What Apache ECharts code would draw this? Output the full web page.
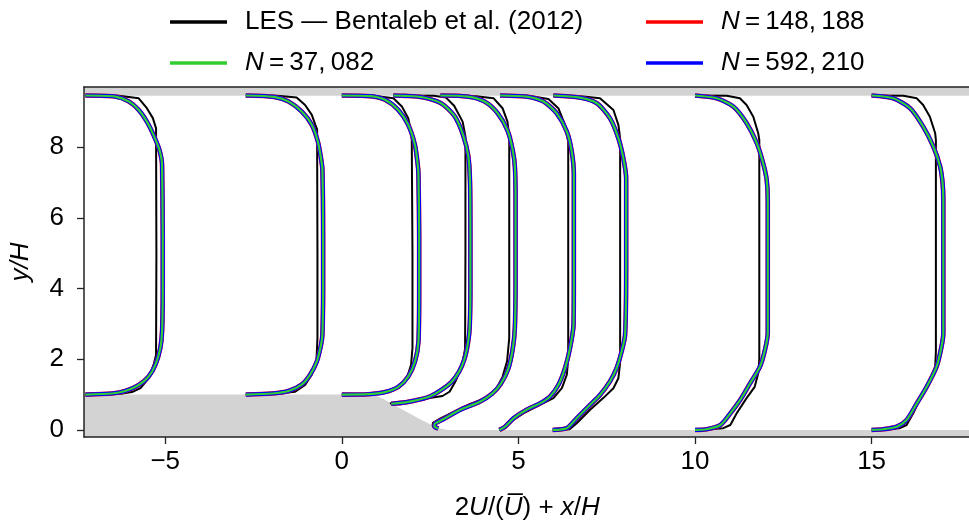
<!DOCTYPE html>
<html><head><meta charset="utf-8">
<script src="https://cdn.jsdelivr.net/npm/echarts@6/dist/echarts.min.js"></script>
<style>html,body{margin:0;padding:0;background:#fff}#c{width:969px;height:527px}</style>
</head><body><div id="c"></div>
<script>
// Coordinates: x = 2U/Ubar + x/H, y = y/H
const xTicks = [-5, 0, 5, 10, 15];
const yTicks = [0, 2, 4, 6, 8];

// Walls (grey solid regions)
const bottomWall = [[-7.3,1.0],[0.6,1.0],[0.8,0.99],[1.0,0.95],[1.2,0.86],[1.4,0.75],[1.6,0.64],[1.8,0.53],[2.0,0.42],[2.2,0.31],[2.4,0.21],[2.6,0.11],[2.8,0.03],[3.0,0.0],[17.8,0.0]];
const topWall = [[-7.3,9.45],[17.8,9.45]];

// LES — Bentaleb et al. (2012) profiles
const les1 = [[-7.26,1.0],[-6.88,1.0],[-6.26,1.02],[-5.94,1.07],[-5.70,1.18],[-5.47,1.46],[-5.33,1.84],[-5.26,2.12],[-5.25,5.0],[-5.26,8.53],[-5.35,8.82],[-5.52,9.10],[-5.75,9.38],[-6.31,9.45],[-7.26,9.46]];
const les2 = [[-2.72,1.0],[-2.22,1.01],[-1.79,1.03],[-1.32,1.08],[-1.04,1.27],[-0.85,1.56],[-0.72,1.93],[-0.69,2.6],[-0.69,5.0],[-0.70,8.5],[-0.75,8.63],[-0.85,8.91],[-1.04,9.19],[-1.28,9.40],[-1.82,9.45],[-2.72,9.46]];
const les3 = [[0.0,1.0],[0.6,1.01],[1.03,1.03],[1.41,1.10],[1.65,1.22],[1.84,1.46],[1.96,1.84],[2.0,2.31],[2.0,5.0],[1.98,8.2],[1.96,8.44],[1.88,8.82],[1.70,9.15],[1.46,9.38],[0.9,9.45],[0.0,9.46]];
const les4 = [[1.36,0.75],[1.75,0.80],[2.35,0.88],[2.85,0.96],[3.05,1.08],[3.22,1.38],[3.40,1.80],[3.49,2.30],[3.50,5.0],[3.50,8.3],[3.42,8.72],[3.18,9.17],[2.95,9.40],[2.60,9.45],[1.46,9.46]];
const les5 = [[2.70,0.04],[2.57,0.12],[2.58,0.20],[2.78,0.32],[3.15,0.50],[3.60,0.72],[4.05,0.90],[4.35,1.12],[4.55,1.50],[4.68,1.95],[4.74,2.6],[4.74,5.0],[4.74,8.3],[4.69,8.72],[4.55,9.1],[4.30,9.38],[3.80,9.44],[2.79,9.46]];
const les6 = [[4.46,0.0],[4.62,0.05],[4.86,0.28],[5.14,0.47],[5.61,0.71],[5.99,0.90],[6.23,1.18],[6.37,1.56],[6.41,2.0],[6.41,5.0],[6.41,8.16],[6.32,8.63],[6.13,9.10],[5.85,9.36],[5.42,9.43],[4.48,9.46]];
const les7 = [[5.97,0.0],[6.45,0.02],[6.65,0.19],[7.03,0.57],[7.40,0.90],[7.69,1.18],[7.83,1.46],[7.88,1.9],[7.88,5.0],[7.88,8.25],[7.83,8.63],[7.69,9.05],[7.31,9.38],[6.84,9.43],[5.99,9.46]];
const les8 = [[10.0,0.0],[10.45,0.02],[10.80,0.05],[11.0,0.14],[11.18,0.47],[11.46,0.90],[11.69,1.22],[11.79,1.60],[11.82,2.0],[11.82,5.0],[11.82,8.2],[11.79,8.39],[11.65,8.86],[11.46,9.19],[11.27,9.38],[10.90,9.45],[10.0,9.46]];
const les9 = [[15.0,0.0],[15.45,0.02],[15.80,0.05],[15.99,0.14],[16.18,0.47],[16.42,0.99],[16.65,1.41],[16.80,1.79],[16.82,2.2],[16.82,5.0],[16.82,8.2],[16.80,8.39],[16.65,8.86],[16.46,9.19],[16.28,9.38],[15.90,9.45],[15.0,9.46]];

// Mesh results (N = 37,082 / 148,188 / 592,210 coincide at this scale)
const mesh1 = [[-7.26,1.0],[-6.51,1.03],[-6.13,1.10],[-5.75,1.27],[-5.47,1.51],[-5.28,1.84],[-5.14,2.31],[-5.09,2.78],[-5.07,4.0],[-5.07,5.5],[-5.09,7.50],[-5.11,7.69],[-5.18,7.97],[-5.33,8.34],[-5.52,8.72],[-5.75,9.05],[-6.03,9.29],[-6.41,9.43],[-7.26,9.46]];
const mesh2 = [[-2.72,1.0],[-1.98,1.03],[-1.51,1.10],[-1.13,1.29],[-0.90,1.56],[-0.71,1.93],[-0.59,2.40],[-0.55,2.7],[-0.53,4.0],[-0.53,5.5],[-0.55,7.36],[-0.59,7.69],[-0.68,8.16],[-0.85,8.63],[-1.13,9.00],[-1.51,9.29],[-1.92,9.42],[-2.72,9.46]];
const mesh3 = [[0.0,1.0],[0.75,1.01],[1.22,1.07],[1.60,1.22],[1.88,1.51],[2.07,1.93],[2.17,2.50],[2.19,4.0],[2.19,5.5],[2.17,7.2],[2.15,7.50],[2.07,8.06],[1.88,8.63],[1.60,9.05],[1.22,9.34],[0.8,9.44],[0.0,9.46]];
const mesh4 = [[1.40,0.74],[1.80,0.78],[2.20,0.86],[2.50,0.95],[2.80,1.12],[3.10,1.35],[3.32,1.65],[3.47,2.00],[3.57,2.45],[3.62,2.90],[3.64,4.0],[3.64,5.5],[3.63,7.0],[3.58,7.75],[3.43,8.35],[3.19,8.88],[2.81,9.24],[2.28,9.41],[1.80,9.45],[1.46,9.46]];
const mesh5 = [[2.73,0.04],[2.62,0.10],[2.64,0.18],[2.87,0.30],[3.35,0.57],[3.91,0.80],[4.25,1.02],[4.50,1.30],[4.71,1.72],[4.84,2.3],[4.90,2.9],[4.92,4.5],[4.92,6.5],[4.90,7.45],[4.84,7.9],[4.70,8.45],[4.41,8.96],[4.04,9.29],[3.56,9.43],[2.79,9.46]];
const mesh6 = [[4.46,0.0],[4.62,0.09],[4.86,0.33],[5.23,0.57],[5.61,0.75],[5.89,0.94],[6.13,1.27],[6.32,1.75],[6.46,2.31],[6.56,2.97],[6.57,4.5],[6.57,6.5],[6.57,7.21],[6.51,7.87],[6.37,8.44],[6.08,8.96],[5.71,9.29],[5.23,9.43],[4.48,9.46]];
const mesh7 = [[5.97,0.0],[6.37,0.05],[6.65,0.33],[7.03,0.71],[7.31,0.99],[7.59,1.37],[7.78,1.75],[7.92,2.21],[8.02,2.69],[8.05,4.5],[8.05,6.5],[8.05,7.12],[7.97,7.69],[7.83,8.25],[7.59,8.82],[7.22,9.24],[6.74,9.40],[5.99,9.46]];
const mesh8 = [[10.0,0.0],[10.33,0.02],[10.72,0.14],[11.0,0.47],[11.28,0.85],[11.56,1.32],[11.84,1.79],[11.98,2.26],[12.06,2.74],[12.06,4.5],[12.06,6.5],[12.03,7.07],[11.93,7.54],[11.75,8.11],[11.46,8.68],[11.08,9.15],[10.61,9.38],[10.0,9.46]];
const mesh9 = [[15.0,0.0],[15.33,0.02],[15.71,0.09],[15.99,0.28],[16.28,0.75],[16.56,1.22],[16.84,1.79],[16.98,2.36],[17.03,2.74],[17.03,4.5],[17.03,6.5],[17.01,6.98],[16.94,7.45],[16.75,8.01],[16.46,8.58],[16.09,9.10],[15.61,9.38],[15.0,9.46]];

const lesProfiles = [les1, les2, les3, les4, les5, les6, les7, les8, les9];
const meshProfiles = [mesh1, mesh2, mesh3, mesh4, mesh5, mesh6, mesh7, mesh8, mesh9];

const nameLES = 'LES — Bentaleb et al. (2012)';
const nameN1 = 'N37082', nameN2 = 'N148188', nameN3 = 'N592210';
const legendLabels = {N37082: '37,\u2009082', N148188: '148,\u2009188', N592210: '592,\u2009210'};

const FONT = '"Liberation Sans", Arial, sans-serif';
const FS = 26;
const axisColor = '#222';

const series = [];
series.push({type:'line', data: bottomWall, symbol:'none', silent:true, z:1,
  lineStyle:{width:0, opacity:0}, areaStyle:{color:'#d3d3d3', opacity:1, origin:'start'}});
series.push({type:'line', data: topWall, symbol:'none', silent:true, z:1,
  lineStyle:{width:0, opacity:0}, areaStyle:{color:'#d3d3d3', opacity:1, origin:'end'}});

lesProfiles.forEach(p => series.push({name:nameLES, type:'line', data:p, symbol:'none', z:2,
  color:'#000', lineStyle:{width:2, color:'#000'}}));
meshProfiles.forEach(p => series.push({name:nameN2, type:'line', data:p, symbol:'none', z:3, smooth:0.25,
  color:'#ff0000', lineStyle:{width:4.6, color:'#ff0000'}}));
meshProfiles.forEach(p => series.push({name:nameN3, type:'line', data:p, symbol:'none', z:4, smooth:0.25,
  color:'#0000ff', lineStyle:{width:4.2, color:'#0000ff'}}));
meshProfiles.forEach(p => series.push({name:nameN1, type:'line', data:p, symbol:'none', z:5, smooth:0.25,
  color:'#33cc33', lineStyle:{width:2.2, color:'#33cc33'}}));

const richText = {
  n: {fontFamily: FONT, fontSize: FS, color:'#000'},
  i: {fontFamily: FONT, fontSize: FS, fontStyle:'italic', color:'#000'}
};
function legendFmt(name) {
  if (legendLabels[name]) return '{i|N}{n|\u2009=\u2009' + legendLabels[name] + '}';
  return '{n|' + name + '}';
}
const legendCommon = {
  orient:'vertical', top: 2, itemWidth: 57, itemHeight: 3.5, itemGap: 11, icon:'rect',
  selectedMode:false, formatter: legendFmt,
  textStyle:{fontFamily: FONT, fontSize: FS, color:'#000', lineHeight: 30, padding:[0,0,0,13], rich: richText}
};

const option = {
  animation: false,
  backgroundColor: '#fff',
  legend: [
    Object.assign({left: 165, data:[nameLES, nameN1]}, legendCommon),
    Object.assign({left: 641, data:[nameN2, nameN3]}, legendCommon)
  ],
  grid: {left: 84, top: 87, width: 886.5, height: 350, containLabel:false, outerBoundsMode:'none'},
  xAxis: [{
    type:'value', min:-7.3, max:17.8, z:10,
    name:'{n|2}{i|U}{n|/(}{i|U\u0305}{n|) + }{i|x}{n|/}{i|H}',
    nameLocation:'middle', nameGap: 58,
    nameTextStyle:{rich: richText},
    axisLine:{show:true, onZero:false, lineStyle:{color:axisColor, width:1.5}},
    axisTick:{show:true, inside:false, length:7, customValues:xTicks, lineStyle:{color:axisColor, width:1.3}},
    axisLabel:{customValues:xTicks, margin:12, fontFamily:FONT, fontSize:FS, color:'#000',
      formatter: v => v < 0 ? '\u2212' + Math.abs(v) : String(v)},
    splitLine:{show:false}
  }, {
    type:'value', position:'top', min:-7.3, max:17.8, z:10,
    axisLine:{show:true, onZero:false, lineStyle:{color:axisColor, width:1.5}},
    axisTick:{show:false}, axisLabel:{show:false}, splitLine:{show:false}
  }],
  yAxis: {
    type:'value', min:-0.2, max:9.7, z:10,
    name:'{i|y/H}', nameLocation:'middle', nameRotate:90, nameGap:50,
    nameTextStyle:{rich: richText},
    axisLine:{show:true, onZero:false, lineStyle:{color:axisColor, width:1.5}},
    axisTick:{show:true, inside:false, length:7, customValues:yTicks, lineStyle:{color:axisColor, width:1.3}},
    axisLabel:{customValues:yTicks, margin:20, fontFamily:FONT, fontSize:FS, color:'#000'},
    splitLine:{show:false}
  },
  series: series
};

const chart = echarts.init(document.getElementById('c'), null, {renderer:'canvas'});
chart.setOption(option);
</script>
</body></html>
